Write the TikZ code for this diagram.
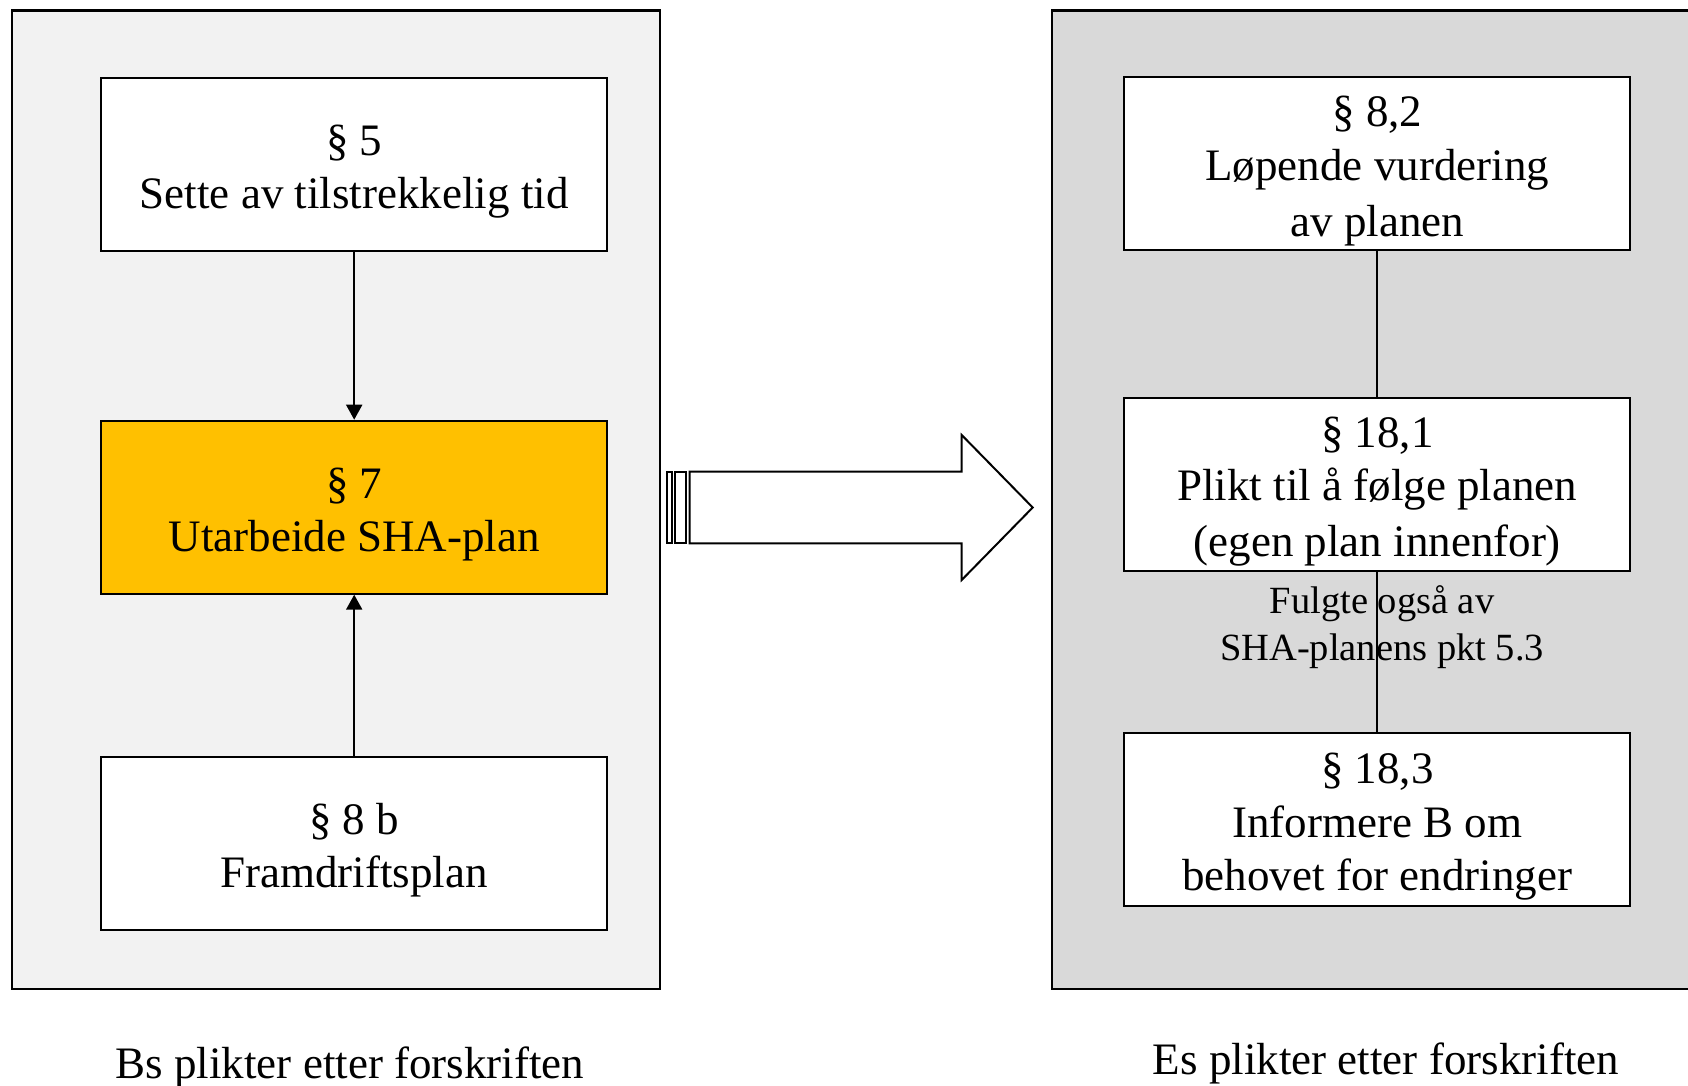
\documentclass[tikz,border=0pt]{standalone}
\usepackage{fontspec}
\setmainfont{Liberation Serif}
\usetikzlibrary{arrows.meta}
\definecolor{panelL}{HTML}{F2F2F2}
\definecolor{panelR}{HTML}{D9D9D9}
\definecolor{yel}{HTML}{FFC000}
\newcommand\bxstrut{\rule[-8pt]{0pt}{53.5pt}}
\newcommand\nstrut{\rule[-11pt]{0pt}{36pt}}
\begin{document}
\begin{tikzpicture}[x=1pt,y=-1pt,
  panel/.style={draw=black,line width=2.5pt},
  box/.style={draw=black,fill=white,line width=2pt,minimum width=506pt,minimum height=173pt,inner sep=0pt,align=center,font=\fontsize{45}{53.5}\selectfont},
  conn/.style={line width=2pt,-{Triangle[length=15pt,width=16pt]}},
  plainline/.style={line width=2pt},
  note/.style={align=center,inner sep=0pt,font=\fontsize{38.5}{47}\selectfont},
  caption/.style={anchor=base,inner sep=0pt,font=\fontsize{45}{54}\selectfont},
  blockarrow/.style={draw=black,fill=white,line width=2pt,line join=miter}]
\useasboundingbox (0,0) rectangle (1688,1086);
\clip (0,0) rectangle (1688,1086);
% panels
\draw[panel,fill=panelL] (11.8,10.4) rectangle (660,989);
\draw[panel,fill=panelR] (1052,10.4) rectangle (1700,989);
% left boxes
\node[box] (b5) at (354.2,164.2) {\bxstrut§ 5\\\bxstrut Sette av tilstrekkelig tid};
\node[box,fill=yel] (b7) at (354.2,507.2) {\bxstrut§ 7\\\bxstrut Utarbeide SHA-plan};
\node[box] (b8) at (354.2,843) {\bxstrut§ 8 b\\\bxstrut Framdriftsplan};
\draw[conn] (b5) -- (b7);
\draw[conn] (b8) -- (b7);
% right boxes
\node[box] (r82) at (1377.3,163.8) {\bxstrut§ 8,2\\\bxstrut Løpende vurdering\\\bxstrut av planen};
\node[box] (r181) at (1377.3,484.2) {\bxstrut§ 18,1\\\bxstrut Plikt til å følge planen\\\bxstrut (egen plan innenfor)};
\node[box] (r183) at (1377.3,819.3) {\bxstrut§ 18,3\\\bxstrut Informere B om\\\bxstrut behovet for endringer};
\draw[plainline] (r82) -- (r181);
\draw[plainline] (r181) -- (r183);
\node[note] (nt) at (1382,629) {\nstrut Fulgte også av\\\nstrut SHA-planens pkt 5.3};
% block arrow
\draw[blockarrow] (666.7,471.7) rectangle (672.3,543.3);
\draw[blockarrow] (675,471.7) rectangle (686,543.3);
\draw[blockarrow] (689.7,471.7) -- (961.7,471.7) -- (961.7,435) -- (1032.7,507.5) -- (961.7,580) -- (961.7,543.3) -- (689.7,543.3) -- cycle;
% captions
\node[caption] (capL) at (350,1078) {Bs plikter etter forskriften};
\node[caption] (capR) at (1386,1074) {Es plikter etter forskriften};
\end{tikzpicture}
\end{document}
